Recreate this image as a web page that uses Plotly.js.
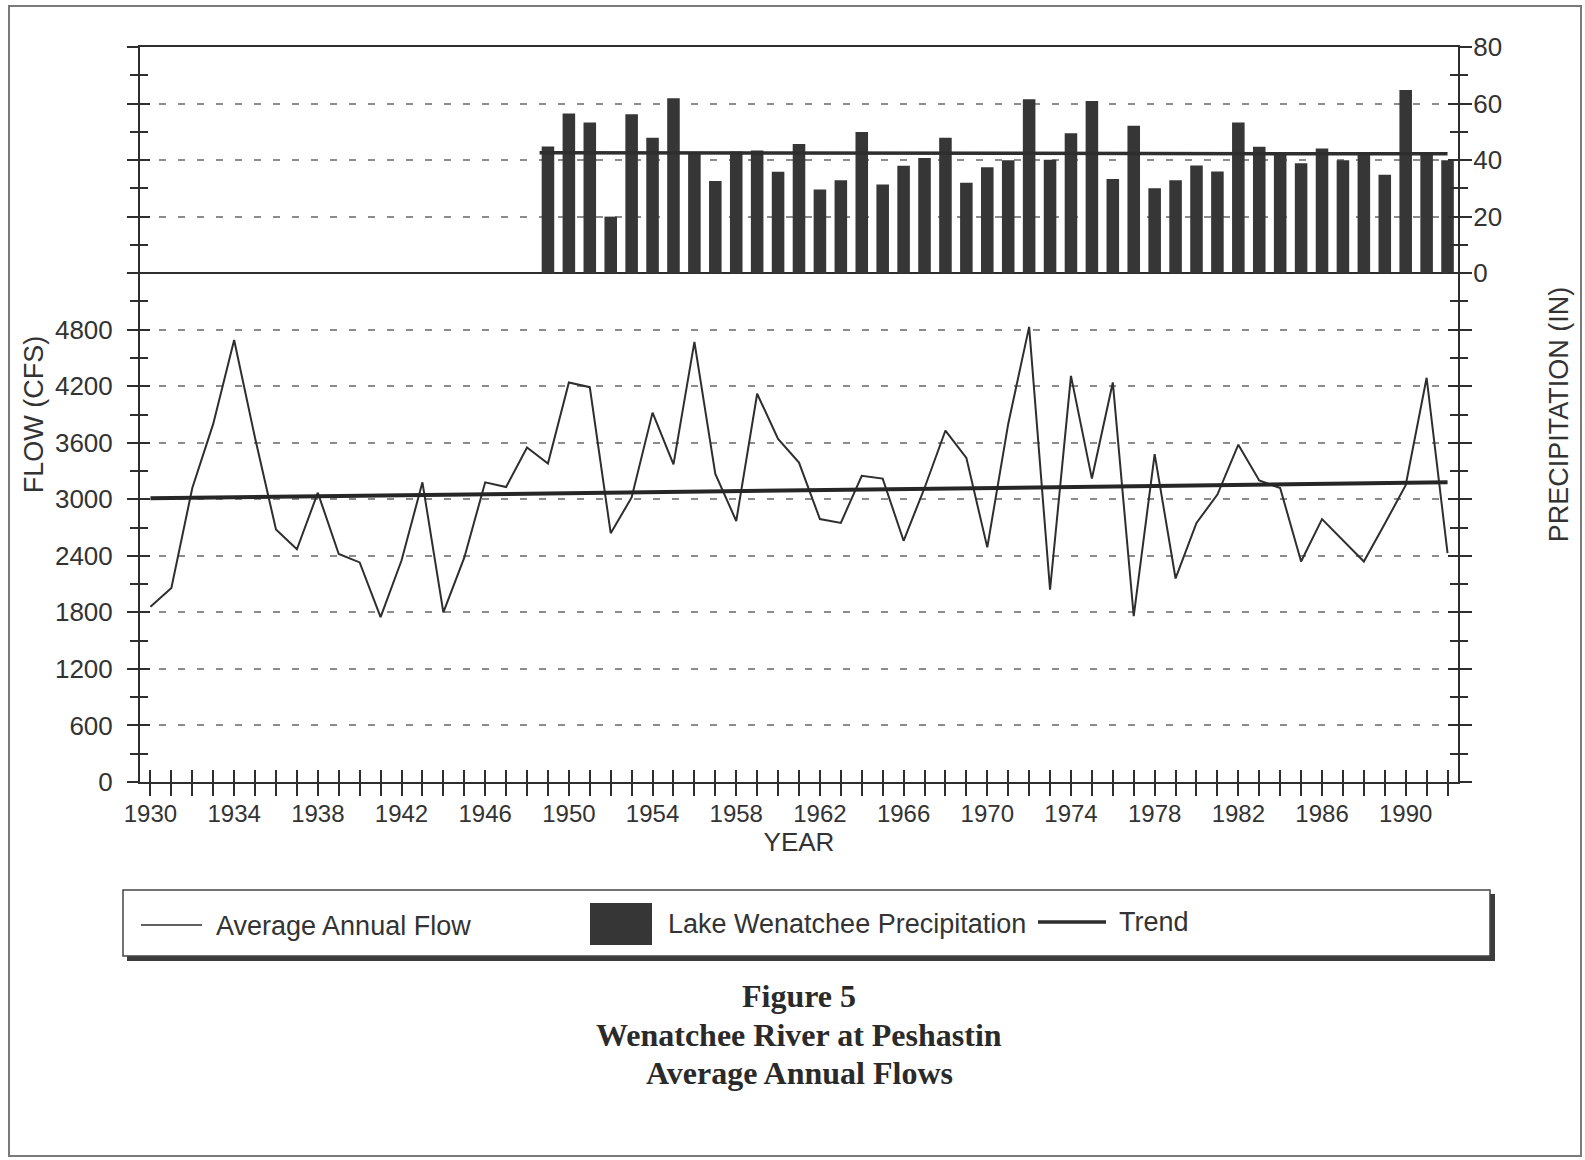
<!DOCTYPE html>
<html>
<head>
<meta charset="utf-8">
<script src="https://cdn.plot.ly/plotly-3.0.1.min.js"></script>
<style>
  html, body { margin: 0; padding: 0; background: #fff; }
  #chart { width: 1585px; height: 1160px; }
</style>
</head>
<body>
<div id="chart"></div>
<script>
// ---- Wenatchee River at Peshastin: average annual flow (cfs), 1930-1992
const years = [1930, 1931, 1932, 1933, 1934, 1935, 1936, 1937, 1938, 1939,
               1940, 1941, 1942, 1943, 1944, 1945, 1946, 1947, 1948, 1949,
               1950, 1951, 1952, 1953, 1954, 1955, 1956, 1957, 1958, 1959,
               1960, 1961, 1962, 1963, 1964, 1965, 1966, 1967, 1968, 1969,
               1970, 1971, 1972, 1973, 1974, 1975, 1976, 1977, 1978, 1979,
               1980, 1981, 1982, 1983, 1984, 1985, 1986, 1987, 1988, 1989,
               1990, 1991, 1992];
const flowCfs = [1860, 2060, 3120, 3800, 4690, 3650, 2680, 2470, 3070, 2420,
                 2330, 1750, 2350, 3180, 1800, 2380, 3180, 3130, 3550, 3380,
                 4240, 4190, 2640, 3020, 3920, 3370, 4670, 3270, 2770, 4120,
                 3640, 3390, 2790, 2750, 3250, 3220, 2560, 3120, 3730, 3440,
                 2490, 3800, 4830, 2040, 4310, 3220, 4240, 1760, 3480, 2160,
                 2750, 3050, 3580, 3200, 3120, 2340, 2790, 2560, 2340, 2740,
                 3150, 4290, 2430];

// ---- Lake Wenatchee precipitation (in), 1949-1992
const precipYears = [1949, 1950, 1951, 1952, 1953, 1954, 1955, 1956, 1957, 1958,
                     1959, 1960, 1961, 1962, 1963, 1964, 1965, 1966, 1967, 1968,
                     1969, 1970, 1971, 1972, 1973, 1974, 1975, 1976, 1977, 1978,
                     1979, 1980, 1981, 1982, 1983, 1984, 1985, 1986, 1987, 1988,
                     1989, 1990, 1991, 1992];
const precipIn = [44.8, 56.5, 53.3, 20.0, 56.2, 47.9, 61.9, 42.6, 32.6, 43.0,
                  43.4, 35.9, 45.7, 29.6, 32.9, 49.9, 31.4, 38.0, 40.7, 47.9,
                  32.0, 37.5, 39.9, 61.5, 40.1, 49.5, 60.9, 33.3, 52.1, 30.0,
                  32.9, 38.1, 36.0, 53.3, 44.7, 42.3, 38.9, 44.1, 39.9, 42.3,
                  34.8, 64.8, 42.3, 39.9];

// ---- Trend lines (end points)
const flowTrendYears = [1930, 1992];
const flowTrendCfs = [3010, 3180];
const precipTrendYears = [1948.6, 1992];
const precipTrendIn = [42.6, 42.2];

// ---- Tick labels
const yearTickLabels = ['1930', '1934', '1938', '1942', '1946', '1950', '1954', '1958',
                        '1962', '1966', '1970', '1974', '1978', '1982', '1986', '1990'];
const flowTickVals = [0, 600, 1200, 1800, 2400, 3000, 3600, 4200, 4800, 5400, 6000, 6600, 7200, 7800];
const flowTickLabels = ['0', '600', '1200', '1800', '2400', '3000', '3600', '4200', '4800'];
const precipTickVals = [-180, -160, -140, -120, -100, -80, -60, -40, -20, 0, 20, 40, 60, 80];
const precipTickLabels = ['0', '20', '40', '60', '80'];

// ---- Styling
const ink = '#2e2e2e';
const barInk = '#363636';
const sansFont = '"Liberation Sans", Arial, Helvetica, sans-serif';
const serifFont = '"Liberation Serif", "Times New Roman", serif';

// Plot-area geometry in pixels, used to place the legend box, caption and frame
const M = { l: 140, r: 127, t: 47, b: 378 };
const W = 1585, H = 1160;
const plotW = W - M.l - M.r, plotH = H - M.t - M.b;
const px = x => (x - M.l) / plotW;
const py = y => (H - M.b - y) / plotH;

const xTickText = years.map(y => yearTickLabels.includes(String(y)) ? String(y) : '');
const yTickText = flowTickVals.map(v => flowTickLabels.includes(String(v)) ? String(v) : '');
const y2TickText = precipTickVals.map(v => precipTickLabels.includes(String(v)) ? String(v) : '');

const traces = [
  {
    type: 'bar', name: 'Lake Wenatchee Precipitation',
    x: precipYears, y: precipIn, yaxis: 'y2', width: 0.6,
    marker: { color: barInk, line: { width: 0 } }, hoverinfo: 'x+y'
  },
  {
    type: 'scatter', mode: 'lines', name: 'Precipitation trend',
    x: precipTrendYears, y: precipTrendIn, yaxis: 'y2',
    line: { color: ink, width: 3.5 }
  },
  {
    type: 'scatter', mode: 'lines', name: 'Average Annual Flow',
    x: years, y: flowCfs, line: { color: ink, width: 2 }
  },
  {
    type: 'scatter', mode: 'lines', name: 'Trend',
    x: flowTrendYears, y: flowTrendCfs, line: { color: '#262626', width: 4 }
  },
  // carriers for the inner half of the crossing tick marks
  { type: 'scatter', x: [], y: [], xaxis: 'x2', yaxis: 'y3', hoverinfo: 'skip', showlegend: false },
  { type: 'scatter', x: [], y: [], xaxis: 'x2', yaxis: 'y4', hoverinfo: 'skip', showlegend: false }
];

const tickStyle = { tickwidth: 2, tickcolor: ink };

const layout = {
  width: W, height: H,
  margin: { l: M.l, r: M.r, t: M.t, b: M.b, pad: 0 },
  paper_bgcolor: '#ffffff', plot_bgcolor: '#ffffff',
  font: { family: sansFont, size: 26, color: '#333333' },
  showlegend: false,
  xaxis: {
    range: [1929.5, 1992.5], tickmode: 'array', tickvals: years, ticktext: xTickText,
    ticks: 'outside', ticklen: 12, ...tickStyle, ticklabelstandoff: -3,
    tickfont: { size: 24 },
    showline: true, linecolor: ink, linewidth: 2, mirror: true,
    showgrid: false, zeroline: false,
    title: { text: 'YEAR', standoff: 0, font: { size: 26 } }
  },
  xaxis2: {
    overlaying: 'x', anchor: 'y3', range: [1929.5, 1992.5],
    tickmode: 'array', tickvals: years, ticks: 'inside', ticklen: 12, ...tickStyle,
    showticklabels: false, showgrid: false, zeroline: false, showline: false
  },
  yaxis: {
    range: [0, 7800], tickmode: 'array', tickvals: flowTickVals, ticktext: yTickText,
    ticks: 'outside', ticklen: 11, ...tickStyle, ticklabelstandoff: 9,
    minor: { tick0: 0, dtick: 300, ticks: 'outside', ticklen: 8, tickwidth: 2, tickcolor: ink, showgrid: false },
    showline: true, linecolor: ink, linewidth: 2,
    showgrid: true, gridcolor: '#8c8c8c', gridwidth: 2, griddash: '7px,12px',
    zeroline: false,
    title: { text: 'FLOW (CFS)', standoff: 4, font: { size: 27 } }
  },
  yaxis2: {
    overlaying: 'y', side: 'right', range: [-180, 80],
    tickmode: 'array', tickvals: precipTickVals, ticktext: y2TickText,
    ticks: 'outside', ticklen: 12, ...tickStyle, ticklabelstandoff: -4,
    minor: { tick0: 0, dtick: 10, ticks: 'outside', ticklen: 8, tickwidth: 2, tickcolor: ink, showgrid: false },
    showline: true, linecolor: ink, linewidth: 2,
    showgrid: false, zeroline: true, zerolinecolor: ink, zerolinewidth: 2,
    title: { text: 'PRECIPITATION (IN)', standoff: 48, font: { size: 27 } }
  },
  yaxis3: {
    overlaying: 'y', side: 'left', range: [0, 7800],
    tickmode: 'array', tickvals: flowTickVals, ticks: 'inside', ticklen: 10, ...tickStyle,
    minor: { tick0: 0, dtick: 300, ticks: 'inside', ticklen: 8, tickwidth: 2, tickcolor: ink, showgrid: false },
    showticklabels: false, showgrid: false, zeroline: false, showline: false
  },
  yaxis4: {
    overlaying: 'y', side: 'right', range: [-180, 80],
    tickmode: 'array', tickvals: precipTickVals, ticks: 'inside', ticklen: 10, ...tickStyle,
    minor: { tick0: 0, dtick: 10, ticks: 'inside', ticklen: 8, tickwidth: 2, tickcolor: ink, showgrid: false },
    showticklabels: false, showgrid: false, zeroline: false, showline: false
  },
  shapes: [
    // outer figure frame
    { type: 'rect', xref: 'paper', yref: 'paper', x0: px(9), x1: px(1581), y0: py(1156), y1: py(6),
      line: { color: '#7a7a7a', width: 2 }, fillcolor: 'rgba(0,0,0,0)', layer: 'below' },
    // legend box with drop shadow
    { type: 'rect', xref: 'paper', yref: 'paper', x0: px(127), x1: px(1495), y0: py(961), y1: py(894),
      line: { width: 0 }, fillcolor: '#3c3c3c' },
    { type: 'rect', xref: 'paper', yref: 'paper', x0: px(123), x1: px(1490), y0: py(956), y1: py(890),
      line: { color: '#444444', width: 1.5 }, fillcolor: '#ffffff' },
    // legend swatches
    { type: 'line', xref: 'paper', yref: 'paper', x0: px(141), x1: px(202), y0: py(925), y1: py(925),
      line: { color: ink, width: 1.5 } },
    { type: 'rect', xref: 'paper', yref: 'paper', x0: px(590), x1: px(652), y0: py(945), y1: py(903),
      line: { width: 0 }, fillcolor: barInk },
    { type: 'line', xref: 'paper', yref: 'paper', x0: px(1038), x1: px(1106), y0: py(922), y1: py(922),
      line: { color: ink, width: 3.5 } }
  ],
  annotations: [
    { xref: 'paper', yref: 'paper', x: px(214), y: py(926), xanchor: 'left', yanchor: 'middle',
      text: 'Average Annual Flow', showarrow: false, font: { size: 27, color: '#333' } },
    { xref: 'paper', yref: 'paper', x: px(666), y: py(924), xanchor: 'left', yanchor: 'middle',
      text: 'Lake Wenatchee Precipitation', showarrow: false, font: { size: 27, color: '#333' } },
    { xref: 'paper', yref: 'paper', x: px(1117), y: py(922), xanchor: 'left', yanchor: 'middle',
      text: 'Trend', showarrow: false, font: { size: 27, color: '#333' } },
    { xref: 'paper', yref: 'paper', x: px(799), y: py(996), xanchor: 'center', yanchor: 'middle',
      text: '<b>Figure 5</b>', showarrow: false, font: { family: serifFont, size: 32, color: '#2a2a2a' } },
    { xref: 'paper', yref: 'paper', x: px(799), y: py(1035), xanchor: 'center', yanchor: 'middle',
      text: '<b>Wenatchee River at Peshastin</b>', showarrow: false, font: { family: serifFont, size: 32, color: '#2a2a2a' } },
    { xref: 'paper', yref: 'paper', x: px(799), y: py(1073), xanchor: 'center', yanchor: 'middle',
      text: '<b>Average Annual Flows</b>', showarrow: false, font: { family: serifFont, size: 32, color: '#2a2a2a' } }
  ]
};

Plotly.newPlot('chart', traces, layout, { displayModeBar: false, staticPlot: true });
</script>
</body>
</html>
